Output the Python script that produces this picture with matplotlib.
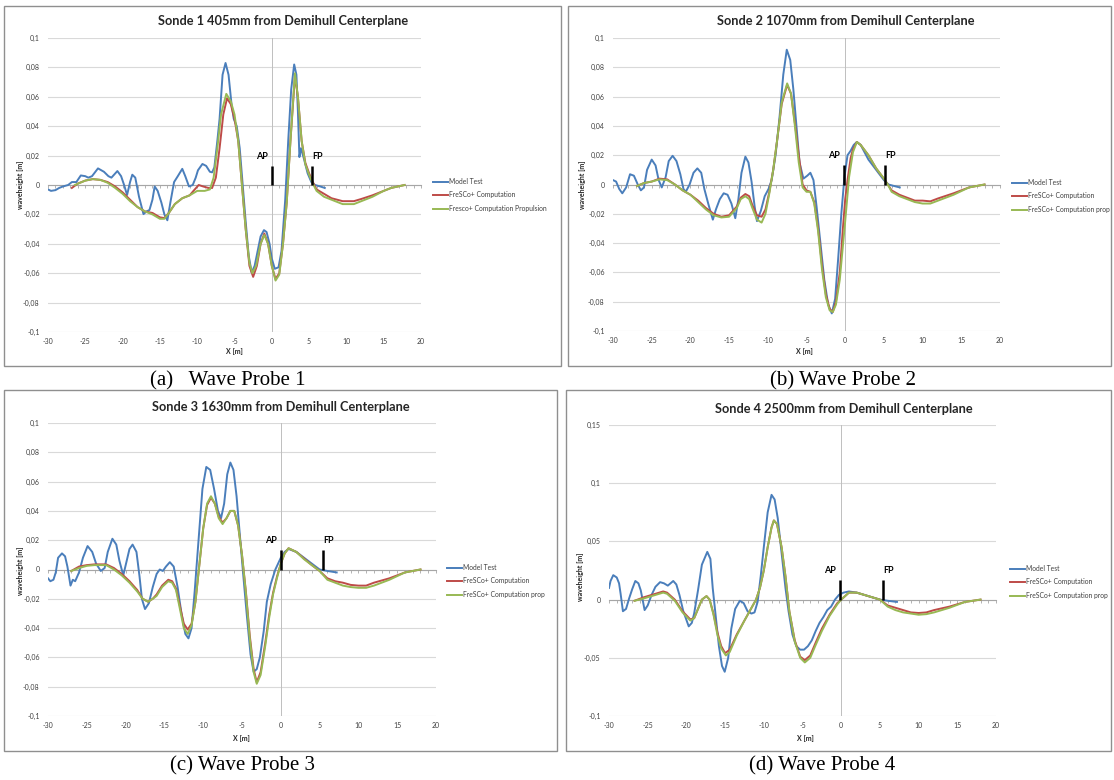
import matplotlib
matplotlib.use("Agg")
import matplotlib.pyplot as plt
from matplotlib.patches import Rectangle
from matplotlib.ticker import FuncFormatter, MultipleLocator

W, H = 1114, 780

# ---------------- data ----------------
legend_p1 = ["Model Test", "FreSCo+ Computation", "Fresco+ Computation Propulsion"]
legend_px = ["Model Test", "FreSCo+ Computation", "FreSCo+ Computation prop"]
titles = ["Sonde 1 405mm from Demihull Centerplane",
          "Sonde 2 1070mm from Demihull Centerplane",
          "Sonde 3 1630mm from Demihull Centerplane",
          "Sonde 4 2500mm from Demihull Centerplane"]
captions = ["(a)   Wave Probe 1", "(b) Wave Probe 2", "(c) Wave Probe 3", "(d) Wave Probe 4"]
x_ticks = [-30, -25, -20, -15, -10, -5, 0, 5, 10, 15, 20]
y_ticks_a = [-0.1, -0.08, -0.06, -0.04, -0.02, 0, 0.02, 0.04, 0.06, 0.08, 0.1]
y_ticks_d = [-0.1, -0.05, 0, 0.05, 0.1, 0.15]

marker_labels = ["AP", "FP"]
p1_marker_x = [0.0, 5.4]
p2_marker_x = [-0.1, 5.2]
p3_marker_x = [0.0, 5.4]
p4_marker_x = [-0.1, 5.4]
p1_marker_h = 0.013
p2_marker_h = 0.0135
p3_marker_h = 0.0135
p4_marker_h = 0.017

# Panel 1
p1_mt_x = [-30, -29.6, -29, -28.5, -28, -27.3, -26.8, -26.2, -25.6, -25, -24.6, -24.1, -23.3, -22.5, -21.9, -21.5,
           -20.7, -20.2, -19.8, -19.4, -19.0, -18.7, -18.3, -17.8, -17.2, -16.8, -16.4, -16.0, -15.7, -15.3, -14.8,
           -14.4, -14.0, -13.6, -13.1, -12.6, -12.0, -11.6, -11.1, -10.6, -10.2, -9.9, -9.3, -8.8, -8.3, -8.0, -7.7,
           -7.3, -7.0, -6.6, -6.2, -5.8, -5.4, -5.1, -4.7, -4.3, -3.9, -3.5, -3.1, -2.7, -2.3, -1.9, -1.5, -1.05,
           -0.7, -0.3, 0.0, 0.4, 0.9, 1.3, 1.8, 2.2, 2.6, 3.0, 3.3, 3.5, 3.7, 3.9, 4.3, 4.8, 5.3, 5.8, 6.5, 7.1]
p1_mt_y = [-0.003, -0.004, -0.0035, -0.002, -0.001, 0.0, 0.002, 0.002, 0.0065, 0.006, 0.005, 0.006, 0.0113, 0.009,
           0.006, 0.005, 0.0095, 0.006, 0.0, -0.0068, 0.002, 0.007, 0.005, -0.008, -0.0198, -0.018, -0.017, -0.01,
           -0.001, -0.004, -0.012, -0.02, -0.024, -0.012, 0.002, 0.006, 0.011, 0.006, -0.001, 0.0, 0.005, 0.010,
           0.0143, 0.013, 0.009, 0.0086, 0.012, 0.03, 0.045, 0.075, 0.083, 0.075, 0.055, 0.045, 0.04, 0.025, 0.0,
           -0.025, -0.048, -0.0595, -0.055, -0.045, -0.035, -0.0307, -0.032, -0.04, -0.05, -0.057, -0.056, -0.045,
           -0.01, 0.03, 0.065, 0.082, 0.075, 0.05, 0.019, 0.025, 0.018, 0.008, 0.002, 0.0, -0.001, -0.002]
p1_fc_x = [-26.8, -26, -25, -24, -23, -22, -21, -20, -19, -18, -17, -16, -15, -14.4, -13.8, -13, -12, -11, -10.5,
           -9.8, -9.2, -8.5, -8, -7.5, -7, -6.5, -6, -5.5, -5, -4.5, -4, -3.5, -3, -2.5, -2, -1.5, -1, -0.5, 0,
           0.5, 1, 1.5, 2, 2.5, 3.1, 3.5, 4, 4.5, 5, 5.5, 6, 7, 8, 9.5, 11, 12, 13.5, 15, 16, 17.8]
p1_fc_y = [-0.002, 0.001, 0.003, 0.004, 0.0035, 0.002, -0.001, -0.005, -0.01, -0.015, -0.018, -0.019, -0.022,
           -0.0225, -0.019, -0.013, -0.009, -0.007, -0.004, 0.0, -0.001, -0.002, -0.002, 0.005, 0.025, 0.048,
           0.059, 0.055, 0.045, 0.03, 0.0, -0.03, -0.055, -0.0625, -0.055, -0.04, -0.033, -0.04, -0.055, -0.064,
           -0.06, -0.04, -0.012, 0.03, 0.074, 0.06, 0.03, 0.015, 0.008, 0.002, -0.003, -0.006, -0.009, -0.011,
           -0.011, -0.0095, -0.007, -0.004, -0.002, 0.0]
p1_fp_x = [-26.4, -25, -24, -23, -22, -21, -20, -19, -18, -17, -16, -15, -14.4, -13.8, -13, -12, -11, -10, -9,
           -8.3, -7.8, -7.3, -6.8, -6.1, -5.5, -5, -4.5, -4, -3.5, -3, -2.6, -2.1, -1.5, -1, -0.5, 0, 0.5, 1, 1.5,
           2, 2.5, 3.1, 3.5, 4, 4.5, 5, 5.5, 6, 7, 8, 9.5, 11, 12, 13.5, 15, 16, 17.8]
p1_fp_y = [0.0, 0.003, 0.004, 0.0035, 0.0015, -0.002, -0.006, -0.011, -0.015, -0.018, -0.02, -0.023, -0.023,
           -0.019, -0.013, -0.009, -0.007, -0.004, -0.004, -0.003, 0.005, 0.025, 0.048, 0.062, 0.057, 0.048, 0.03,
           0.0, -0.03, -0.053, -0.06, -0.055, -0.04, -0.034, -0.04, -0.055, -0.065, -0.061, -0.04, -0.012, 0.03,
           0.076, 0.06, 0.03, 0.014, 0.007, 0.001, -0.004, -0.008, -0.01, -0.013, -0.013, -0.011, -0.008, -0.004,
           -0.002, 0.0]

# Panel 2
p2_mt_x = [-30, -29.6, -29.2, -28.8, -28.3, -27.8, -27.3, -26.8, -26.4, -26.0, -25.6, -25.0, -24.5, -24.1, -23.7,
           -23.2, -22.8, -22.3, -21.8, -21.3, -20.9, -20.6, -20.1, -19.6, -19.1, -18.6, -18.2, -17.7, -17.1, -16.7,
           -16.2, -15.7, -15.2, -14.7, -14.4, -14.2, -13.8, -13.4, -12.9, -12.5, -12.1, -11.7, -11.4, -10.9, -10.4,
           -9.9, -9.5, -9.0, -8.5, -8.0, -7.55, -7.1, -6.7, -6.3, -5.9, -5.4, -4.9, -4.5, -4.1, -3.7, -3.2, -2.7,
           -2.2, -1.73, -1.3, -0.9, -0.5, -0.1, 0.3, 0.7, 1.1, 1.5, 2, 2.5, 3, 4, 5, 5.6, 6.3, 7.05]
p2_mt_y = [0.003, 0.002, -0.003, -0.006, -0.002, 0.007, 0.006, 0.0, -0.004, -0.002, 0.01, 0.017, 0.013, 0.003,
           -0.002, 0.005, 0.016, 0.0196, 0.016, 0.007, -0.003, -0.005, 0.0, 0.008, 0.011, 0.008, -0.003, -0.013,
           -0.024, -0.017, -0.01, -0.006, -0.007, -0.013, -0.019, -0.023, -0.01, 0.008, 0.019, 0.015, 0.002, -0.015,
           -0.025, -0.018, -0.008, -0.003, 0.003, 0.02, 0.045, 0.075, 0.092, 0.085, 0.065, 0.04, 0.015, 0.004,
           0.006, 0.008, 0.003, -0.015, -0.04, -0.065, -0.082, -0.088, -0.078, -0.05, -0.02, 0.005, 0.02, 0.023,
           0.027, 0.029, 0.027, 0.022, 0.017, 0.01, 0.003, 0.0, -0.001, -0.002]
p2_fc_x = [-26.9, -26, -25, -24, -23, -22, -21, -20, -19, -18, -17, -16, -15, -14, -13.5, -12.9, -12.4, -12, -11.4,
           -10.8, -10.3, -9.8, -9.3, -8.8, -8.2, -7.5, -7.0, -6.5, -6.0, -5.5, -5.0, -4.5, -4.0, -3.5, -3.0, -2.5,
           -2.0, -1.6, -1.2, -0.7, -0.3, 0.0, 0.3, 0.7, 1.0, 1.5, 2, 3, 4, 5, 5.5, 6, 7, 8, 9, 10, 11, 12, 14, 16,
           18]
p2_fc_y = [-0.001, 0.001, 0.002, 0.004, 0.0035, 0.0, -0.004, -0.007, -0.011, -0.016, -0.020, -0.022, -0.021,
           -0.015, -0.009, -0.0065, -0.008, -0.014, -0.021, -0.022, -0.017, -0.005, 0.01, 0.03, 0.055, 0.068, 0.062,
           0.042, 0.02, 0.0, -0.004, -0.005, -0.012, -0.03, -0.055, -0.075, -0.085, -0.087, -0.08, -0.06, -0.03,
           -0.01, 0.003, 0.018, 0.024, 0.029, 0.027, 0.02, 0.011, 0.004, 0.0, -0.004, -0.007, -0.009, -0.011, -0.011,
           -0.0115, -0.0095, -0.006, -0.002, 0.0]
p2_fp_x = [-26.9, -26, -25, -24, -23, -22, -21, -20, -19, -18, -17, -16, -15, -14, -13.5, -12.9, -12.4, -12, -11.4,
           -10.8, -10.3, -9.8, -9.3, -8.8, -8.2, -7.5, -7.0, -6.5, -6.0, -5.5, -5.0, -4.5, -4.0, -3.5, -3.0, -2.5,
           -2.0, -1.6, -1.2, -0.7, -0.3, 0.0, 0.5, 1.0, 1.5, 2, 3, 4, 5, 5.5, 6, 7, 8, 9, 10, 11, 12, 14, 16, 18]
p2_fp_y = [-0.001, 0.001, 0.002, 0.0035, 0.003, 0.0, -0.004, -0.007, -0.012, -0.017, -0.021, -0.0225, -0.022,
           -0.016, -0.01, -0.008, -0.01, -0.016, -0.024, -0.026, -0.02, -0.006, 0.01, 0.03, 0.056, 0.069, 0.062,
           0.04, 0.015, -0.002, -0.005, -0.005, -0.013, -0.032, -0.058, -0.077, -0.086, -0.087, -0.082, -0.065,
           -0.042, -0.025, 0.005, 0.022, 0.029, 0.027, 0.02, 0.011, 0.004, 0.0, -0.005, -0.008, -0.01, -0.012,
           -0.013, -0.013, -0.011, -0.007, -0.002, 0.0]

# Panel 3
p3_mt_x = [-30, -29.7, -29.3, -29.0, -28.7, -28.2, -27.8, -27.5, -27.1, -26.8, -26.5, -26.0, -25.5, -24.9, -24.3,
           -23.8, -23.2, -22.7, -22.3, -21.7, -21.2, -20.8, -20.3, -19.9, -19.5, -19.1, -18.6, -18.2, -17.9, -17.5,
           -17.0, -16.5, -16.0, -15.6, -15.2, -14.8, -14.3, -13.8, -13.3, -12.8, -12.3, -11.9, -11.5, -11.1, -10.6,
           -10.1, -9.6, -9.1, -8.6, -8.1, -7.7, -7.3, -6.9, -6.5, -6.1, -5.7, -5.3, -4.9, -4.4, -3.9, -3.5, -3.1,
           -2.7, -2.2, -1.8, -1.3, -0.7, 0, 0.5, 1.0, 2, 3, 4, 5, 6, 7.2]
p3_mt_y = [-0.006, -0.008, -0.007, -0.002, 0.008, 0.011, 0.009, 0.002, -0.011, -0.007, -0.008, -0.002, 0.008, 0.016,
           0.012, 0.004, -0.001, 0.001, 0.012, 0.021, 0.017, 0.006, -0.004, 0.005, 0.014, 0.017, 0.012, -0.005,
           -0.02, -0.027, -0.023, -0.012, -0.003, 0.0, -0.001, 0.002, 0.005, 0.002, -0.012, -0.03, -0.044, -0.047,
           -0.04, -0.015, 0.02, 0.055, 0.07, 0.068, 0.055, 0.04, 0.035, 0.045, 0.065, 0.073, 0.068, 0.05, 0.025, 0.0,
           -0.03, -0.058, -0.0698, -0.068, -0.06, -0.042, -0.022, -0.01, 0.0, 0.008, 0.012, 0.014, 0.012, 0.008,
           0.004, 0.0, -0.001, -0.002]
p3_fc_x = [-27, -26, -25, -24, -22.5, -21.5, -20.5, -19.5, -18.5, -17.8, -17.1, -16.5, -16, -15.3, -14.5, -14, -13.5,
           -13, -12.5, -12, -11.5, -11, -10.5, -10, -9.5, -9, -8.5, -8, -7.5, -7, -6.5, -6, -5.5, -5, -4.5, -4, -3.5,
           -3.1, -2.6, -2, -1.5, -1, -0.5, 0, 0.5, 1.0, 2, 3, 4, 5, 6, 7, 8, 9, 10, 11, 12, 14, 16, 18]
p3_fc_y = [-0.001, 0.002, 0.003, 0.0035, 0.0035, 0.001, -0.003, -0.008, -0.014, -0.02, -0.022, -0.02, -0.017, -0.011,
           -0.007, -0.008, -0.013, -0.025, -0.037, -0.041, -0.037, -0.022, 0.003, 0.028, 0.044, 0.049, 0.045, 0.036,
           0.032, 0.035, 0.040, 0.040, 0.03, 0.01, -0.015, -0.045, -0.068, -0.077, -0.07, -0.05, -0.031, -0.016,
           -0.005, 0.004, 0.011, 0.0145, 0.012, 0.0075, 0.003, -0.001, -0.006, -0.008, -0.009, -0.0105, -0.011,
           -0.011, -0.009, -0.006, -0.002, 0.0]
p3_fp_x = [-27, -26, -25, -24, -22.5, -21.5, -20.5, -19.5, -18.5, -17.8, -17.1, -16.5, -16, -15.3, -14.5, -14, -13.5,
           -13, -12.5, -12, -11.5, -11, -10.5, -10, -9.5, -9, -8.5, -8, -7.5, -7, -6.5, -6, -5.5, -5, -4.5, -4, -3.5,
           -3.1, -2.6, -2, -1.5, -1, -0.5, 0, 0.5, 1.0, 2, 3, 4, 5, 6, 7, 8, 9, 10, 11, 12, 14, 16, 18]
p3_fp_y = [-0.001, 0.001, 0.0025, 0.003, 0.003, 0.0, -0.004, -0.009, -0.015, -0.02, -0.022, -0.02, -0.018, -0.012,
           -0.008, -0.009, -0.014, -0.027, -0.04, -0.044, -0.038, -0.022, 0.003, 0.028, 0.045, 0.050, 0.045, 0.035,
           0.031, 0.035, 0.040, 0.040, 0.03, 0.01, -0.016, -0.047, -0.07, -0.078, -0.072, -0.052, -0.033, -0.017,
           -0.006, 0.004, 0.011, 0.0145, 0.012, 0.007, 0.003, -0.001, -0.007, -0.009, -0.011, -0.012, -0.0125,
           -0.0125, -0.011, -0.007, -0.002, 0.0]

# Panel 4
p4_mt_x = [-30, -29.8, -29.45, -29.0, -28.7, -28.5, -28.2, -27.8, -27.4, -27.0, -26.6, -26.2, -25.9, -25.6, -25.4,
           -25.0, -24.5, -24.0, -23.4, -22.9, -22.4, -21.7, -21.3, -20.9, -20.4, -19.7, -19.3, -19.0, -18.5, -18.0,
           -17.3, -16.9, -16.6, -16.2, -15.8, -15.4, -15.05, -14.6, -14.2, -13.7, -13.1, -12.6, -12.1, -11.6, -11.2,
           -10.8, -10.4, -10.0, -9.5, -9.0, -8.6, -8.2, -7.7, -7.2, -6.8, -6.3, -5.8, -5.3, -4.8, -4.3, -3.8, -3.3,
           -2.8, -2.3, -1.8, -1.3, -0.8, -0.3, 0.3, 1, 2, 3, 4, 5, 6, 7.2]
p4_mt_y = [0.01, 0.016, 0.021, 0.019, 0.014, 0.005, -0.01, -0.008, 0.001, 0.009, 0.016, 0.014, 0.008, -0.002,
           -0.009, -0.005, 0.004, 0.011, 0.015, 0.014, 0.012, 0.016, 0.013, 0.004, -0.01, -0.023, -0.02, -0.012,
           0.008, 0.03, 0.041, 0.035, 0.01, -0.015, -0.04, -0.057, -0.062, -0.05, -0.025, -0.008, -0.001, -0.003,
           -0.01, -0.012, -0.011, -0.002, 0.02, 0.045, 0.075, 0.09, 0.086, 0.07, 0.04, 0.01, -0.01, -0.03, -0.04,
           -0.043, -0.043, -0.04, -0.035, -0.027, -0.02, -0.015, -0.009, -0.006, 0.0, 0.004, 0.006, 0.007, 0.006,
           0.004, 0.002, 0.0, -0.001, -0.002]
p4_fc_x = [-26.7, -25.5, -24, -23, -22.5, -21.5, -20.5, -19.5, -19, -18.5, -18, -17.4, -17, -16.5, -16, -15.5, -15,
           -14.4, -13.5, -12.5, -11.5, -11, -10.5, -10, -9.5, -9, -8.7, -8.3, -7.7, -7.2, -6.7, -6, -5.3, -4.7, -4,
           -3.3, -2.5, -1.5, -0.5, 0, 1, 2, 3, 4, 5, 6, 7, 8, 9, 10, 11, 12, 14, 16, 18]
p4_fc_y = [-0.001, 0.002, 0.005, 0.007, 0.006, 0.0, -0.01, -0.017, -0.016, -0.008, 0.0, 0.003, 0.0, -0.012, -0.028,
           -0.04, -0.046, -0.043, -0.03, -0.018, -0.006, 0.0, 0.01, 0.025, 0.045, 0.062, 0.068, 0.065, 0.045, 0.02,
           -0.01, -0.035, -0.049, -0.052, -0.048, -0.037, -0.025, -0.013, -0.003, 0.0, 0.006, 0.006, 0.004, 0.002,
           0.0, -0.005, -0.007, -0.009, -0.011, -0.0115, -0.011, -0.009, -0.006, -0.002, 0.0]
p4_fp_x = [-26.7, -25.5, -24, -23, -22.5, -21.5, -20.5, -19.5, -19, -18.5, -18, -17.4, -17, -16.5, -16, -15.5, -14.9,
           -14.4, -13.5, -12.5, -11.5, -11, -10.5, -10, -9.5, -9, -8.7, -8.3, -7.7, -7.2, -6.7, -6, -5.3, -4.7, -4,
           -3.3, -2.5, -1.5, -0.5, 0, 1, 2, 3, 4, 5, 6, 7, 8, 9, 10, 11, 12, 14, 16, 18]
p4_fp_y = [-0.001, 0.001, 0.004, 0.006, 0.005, -0.001, -0.011, -0.018, -0.016, -0.008, 0.0, 0.003, 0.0, -0.013,
           -0.03, -0.042, -0.048, -0.045, -0.031, -0.018, -0.006, 0.0, 0.01, 0.025, 0.045, 0.062, 0.068, 0.065,
           0.045, 0.02, -0.01, -0.036, -0.05, -0.054, -0.05, -0.039, -0.027, -0.014, -0.004, 0.0, 0.006, 0.006,
           0.004, 0.002, 0.0, -0.006, -0.009, -0.011, -0.012, -0.013, -0.0125, -0.011, -0.007, -0.002, 0.0]

# ---------------- layout (pixels) ----------------
C_BLUE, C_RED, C_GREEN = "#4A7EBB", "#BE4B48", "#98B954"
FONT = "Lato"
plt.rcParams["font.family"] = [FONT, "DejaVu Sans"]

fig = plt.figure(figsize=(W / 100, H / 100), dpi=100)
fig.patch.set_facecolor("white")


def add_box(x0, y0, x1, y1):
    fig.add_artist(Rectangle((x0 / W, 1 - y1 / H), (x1 - x0) / W, (y1 - y0) / H,
                             transform=fig.transFigure, fill=False, ec="#8F8F8F", lw=1.0))


def fmt(v, pos):
    s = f"{v:.2f}".rstrip("0").rstrip(".")
    if s in ("-0", "0"):
        return "0"
    return s.replace(".", ",")


panels = [
    dict(box=(4, 6, 561, 366), ax=(48, 38, 421, 332), ylim=(-0.1, 0.1), yt=y_ticks_a,
         title=(283, 21), ylab=(20, 185), xlab=(234, 352), leg=(433, 178), legtxt=legend_p1,
         cap=(228, 381), mx=p1_marker_x, mh=p1_marker_h, txty=0.0195,
         mt=(p1_mt_x, p1_mt_y), fc=(p1_fc_x, p1_fc_y), fp=(p1_fp_x, p1_fp_y)),
    dict(box=(568, 6, 1111, 366), ax=(613, 38, 1000, 331), ylim=(-0.1, 0.1), yt=y_ticks_a,
         title=(846, 21), ylab=(583, 185), xlab=(804, 352), leg=(1012, 179), legtxt=legend_px,
         cap=(843, 381), mx=p2_marker_x, mh=p2_marker_h, txty=0.0196,
         mt=(p2_mt_x, p2_mt_y), fc=(p2_fc_x, p2_fc_y), fp=(p2_fp_x, p2_fp_y)),
    dict(box=(4, 390, 557, 751), ax=(48, 423, 436, 716), ylim=(-0.1, 0.1), yt=y_ticks_a,
         title=(281, 407), ylab=(20, 571), xlab=(241, 738), leg=(447, 564), legtxt=legend_px,
         cap=(242, 766), mx=p3_marker_x, mh=p3_marker_h, txty=0.0199,
         mt=(p3_mt_x, p3_mt_y), fc=(p3_fc_x, p3_fc_y), fp=(p3_fp_x, p3_fp_y)),
    dict(box=(566, 390, 1111, 751), ax=(609, 425, 996, 716), ylim=(-0.1, 0.15), yt=y_ticks_d,
         title=(844, 409), ylab=(580, 577), xlab=(805, 738), leg=(1010, 565), legtxt=legend_px,
         cap=(822, 766), mx=p4_marker_x, mh=p4_marker_h, txty=0.0246,
         mt=(p4_mt_x, p4_mt_y), fc=(p4_fc_x, p4_fc_y), fp=(p4_fp_x, p4_fp_y)),
]

for i, p in enumerate(panels):
    add_box(*p["box"])
    x0, y0, x1, y1 = p["ax"]
    ax = fig.add_axes([x0 / W, 1 - y1 / H, (x1 - x0) / W, (y1 - y0) / H])
    ax.set_xlim(-30, 20)
    ax.set_ylim(*p["ylim"])
    ax.set_facecolor("none")
    for s in ("top", "right", "left"):
        ax.spines[s].set_visible(False)
    ax.spines["bottom"].set_position(("data", 0))
    ax.spines["bottom"].set_color("#A6A6A6")
    ax.spines["bottom"].set_linewidth(0.8)
    ax.spines["bottom"].set_zorder(1)
    ax.xaxis.set_major_locator(MultipleLocator(5))
    ax.xaxis.set_minor_locator(MultipleLocator(1))
    ax.tick_params(axis="x", which="both", direction="out", length=2.5, width=0.6,
                   color="#A6A6A6", labelbottom=False)
    ax.set_yticks(p["yt"])
    ax.yaxis.set_major_formatter(FuncFormatter(fmt))
    ax.tick_params(axis="y", length=0, pad=6, labelsize=5, labelcolor="#404040")
    ax.grid(axis="y", color="#D9D9D9", lw=0.8)
    ax.set_axisbelow(True)
    ax.axvline(0, color="#BFBFBF", lw=0.7, zorder=1)

    sec = ax.secondary_xaxis(0.0)
    sec.set_xticks(x_ticks)
    sec.xaxis.set_major_formatter(FuncFormatter(lambda v, pos: f"{v:g}"))
    sec.spines["bottom"].set_visible(False)
    sec.tick_params(length=0, pad=4, labelsize=5, labelcolor="#404040")

    ax.plot(*p["mt"], color=C_BLUE, lw=1.4, label=p["legtxt"][0], zorder=3)
    ax.plot(*p["fc"], color=C_RED, lw=1.4, label=p["legtxt"][1], zorder=4)
    ax.plot(*p["fp"], color=C_GREEN, lw=1.4, label=p["legtxt"][2], zorder=5)

    ax.vlines(p["mx"], 0, p["mh"], color="black", lw=1.8, zorder=6)
    ax.text(p["mx"][0] - 1.3, p["txty"], marker_labels[0], fontsize=6.5, fontweight="bold",
            ha="center", va="center")
    ax.text(p["mx"][1] + 0.7, p["txty"], marker_labels[1], fontsize=6.5, fontweight="bold",
            ha="center", va="center")

    lx, ly = p["leg"]
    ax.legend(loc="upper left", bbox_to_anchor=(lx / W, 1 - ly / H), bbox_transform=fig.transFigure,
              frameon=False, fontsize=4.9, handlelength=2.2, handletextpad=0.1, labelspacing=0.95,
              borderpad=0, borderaxespad=0, labelcolor="#404040")

    tx, ty = p["title"]
    fig.text(tx / W, 1 - ty / H, titles[i], ha="center", va="center", fontsize=9.2,
             fontweight="bold", color="#262626")
    yx, yy = p["ylab"]
    fig.text(yx / W, 1 - yy / H, "waveheight [m]", rotation=90, ha="center", va="center",
             fontsize=5, fontweight="bold", color="#262626")
    xx, xy = p["xlab"]
    fig.text(xx / W, 1 - xy / H, "X [m]", ha="center", va="center", fontsize=5,
             fontweight="bold", color="#262626")
    cx, cy = p["cap"]
    fig.text(cx / W, 1 - cy / H, captions[i], ha="center", va="center", fontsize=15,
             family=["Liberation Serif", "DejaVu Serif"], color="black")

fig.savefig("out.png", dpi=100, facecolor="white")
